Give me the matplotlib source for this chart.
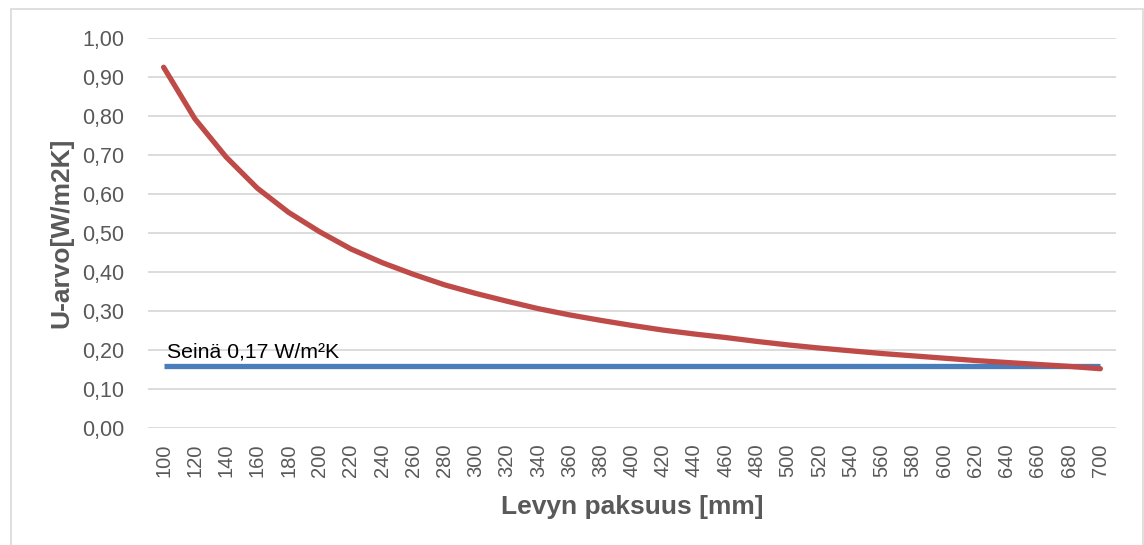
import matplotlib
matplotlib.use("Agg")
import matplotlib.pyplot as plt
from matplotlib.patches import Rectangle

# --- data ---
paksuus = list(range(100, 701, 20))
u_arvo = [0.925, 0.793, 0.695, 0.615, 0.553, 0.503, 0.459, 0.424, 0.394, 0.367,
          0.345, 0.325, 0.306, 0.290, 0.276, 0.263, 0.251, 0.241, 0.232, 0.222,
          0.213, 0.205, 0.198, 0.191, 0.185, 0.179, 0.173, 0.168, 0.163, 0.158,
          0.152]
seina = [0.158] * len(paksuus)
seina_label = "Seinä 0,17 W/m²K"
y_ticks = [0.0, 0.1, 0.2, 0.3, 0.4, 0.5, 0.6, 0.7, 0.8, 0.9, 1.0]

W, H = 1144, 545
fig = plt.figure(figsize=(W / 100, H / 100), dpi=100)
plt.rcParams['font.family'] = ['Liberation Sans', 'DejaVu Sans']

# outer chart border (light gray, bottom runs off the picture)
fig.patches.append(Rectangle((10.5 / W, -0.05), (1143 - 10.5) / W, 1.05 - 9.5 / H,
                             transform=fig.transFigure, fill=False,
                             edgecolor='#d9d9d9', linewidth=1.2))

ax = fig.add_axes([148 / W, 1 - 428 / H, (1116 - 148) / W, (428 - 38) / H])
x = list(range(len(paksuus)))

ax.plot(x, seina, color='#4a7ebb', linewidth=3.8, solid_capstyle='butt', zorder=3)
ax.plot(x, u_arvo, color='#be4b48', linewidth=3.8, solid_capstyle='round', zorder=4)

ax.text(0.1, seina[0] + 0.012, seina_label, fontsize=15.3, color='black',
        ha='left', va='bottom', zorder=5)

ax.set_xlim(-0.5, len(paksuus) - 0.5)
ax.set_ylim(0, 1.0)
ax.set_yticks(y_ticks)
ax.set_yticklabels([f"{v:.2f}".replace('.', ',') for v in y_ticks])
ax.set_xticks(x)
ax.set_xticklabels([str(p) for p in paksuus], rotation=90)

ax.grid(axis='y', color='#d9d9d9', linewidth=1.3)
ax.set_axisbelow(True)
for s in ax.spines.values():
    s.set_visible(False)
ax.tick_params(axis='both', length=0, colors='#595959')
ax.tick_params(axis='y', labelsize=15.5, pad=17)
ax.tick_params(axis='x', labelsize=14.5, pad=11)

ax.set_xlabel("Levyn paksuus [mm]", fontsize=19, fontweight='bold', color='#595959',
              labelpad=13)
ax.set_ylabel("U-arvo[W/m2K]", fontsize=19, fontweight='bold', color='#595959',
              labelpad=6)

fig.savefig("out.png", dpi=100)
